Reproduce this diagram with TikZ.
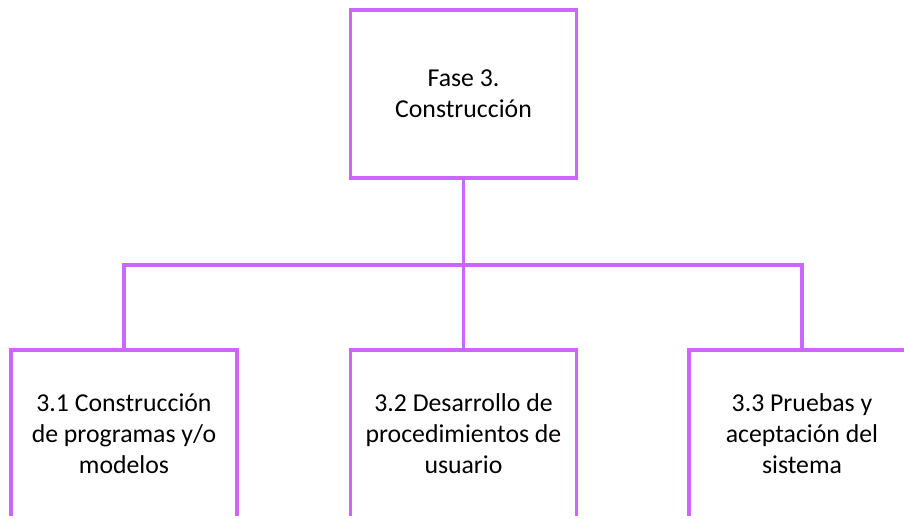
\documentclass[tikz,border=0pt]{standalone}
\usepackage{fontspec}
\setmainfont{Carlito}
\definecolor{lila}{RGB}{204,102,255}
\begin{document}
\begin{tikzpicture}[x=0.03cm, y=-0.03cm,
        caja/.style={rectangle, draw=lila, line width=3pt, minimum width=6.78cm, minimum height=5.04cm,
                align=center, font=\fontsize{22}{26.5}\selectfont},
        rama/.style={draw=lila, line width=3pt}]
        \useasboundingbox (0,0) rectangle (904,518);
        \clip (0,0) rectangle (904,515);

        \node (fase) at (463.5,94) [caja] {Fase 3.\\Construcción};

        \node (b1) at (124,434) [caja] {3.1 Construcción\\de programas y/o\\modelos};
        \node (b2) at (463.5,434) [caja] {3.2 Desarrollo de\\procedimientos de\\usuario};
        \node (b3) at (802,434) [caja] {3.3 Pruebas y\\aceptación del\\sistema};

        \coordinate (j) at (463.5,265);
        \draw[rama] (fase) -- (j) -- (b2);
        \draw[rama] (b1.north) |- (j) -| (b3.north);
        \end{tikzpicture}
\end{document}
